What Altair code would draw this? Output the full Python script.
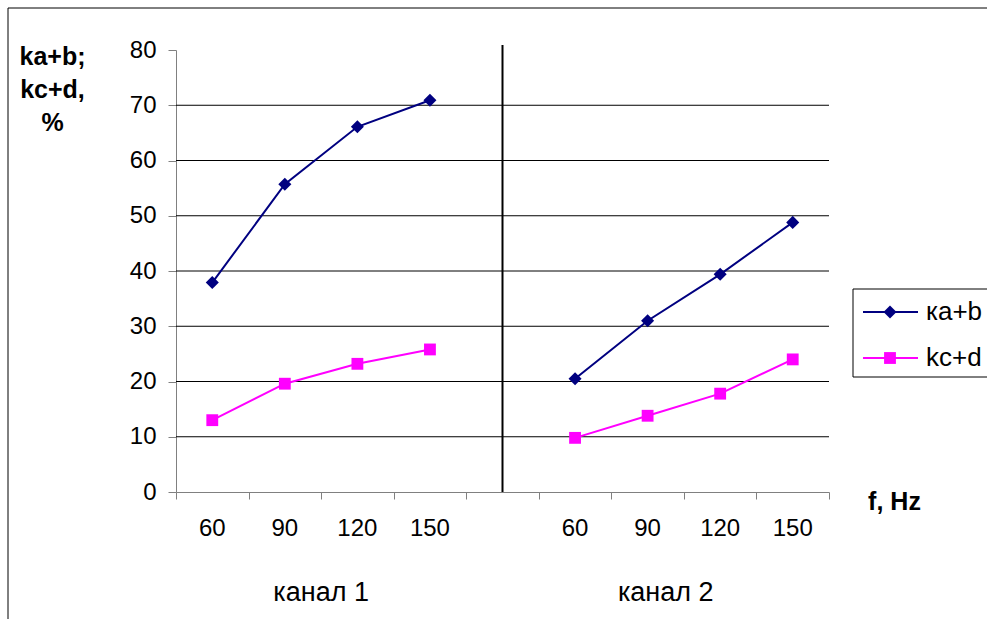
import altair as alt
import pandas as pd

# ---------------- data ----------------
freqs = [60, 90, 120, 150]
channels = ["канал 1", "канал 2"]
series_names = ["ka+b", "kc+d"]
legend_names = ["ка+b", "kc+d"]
ka_b_ch1 = [37.9, 55.7, 66.1, 70.9]
kc_d_ch1 = [13.0, 19.6, 23.2, 25.8]
ka_b_ch2 = [20.5, 31.0, 39.4, 48.8]
kc_d_ch2 = [9.8, 13.8, 17.8, 24.0]
y_ticks = [0, 10, 20, 30, 40, 50, 60, 70, 80]
grid_vals = [10, 20, 30, 40, 50, 60, 70]
colors = ["#000080", "#FF00FF"]
shapes = ["diamond", "square"]
sizes = [170, 140]

W, H = 653, 442
FONT = "Liberation Sans"

n_per = len(freqs)
n_slots = 2 * n_per + 1

rows = []
for c, vals in enumerate([(ka_b_ch1, kc_d_ch1), (ka_b_ch2, kc_d_ch2)]):
    for s, series_vals in enumerate(vals):
        for i, f in enumerate(freqs):
            rows.append(dict(pos=c * (n_per + 1) + i + 0.5, freq=str(f),
                             channel=channels[c], series=series_names[s],
                             value=series_vals[i], grp=f"{series_names[s]}-{c}"))
df = pd.DataFrame(rows)

tick_df = df[["pos", "freq"]].drop_duplicates()
chan_df = pd.DataFrame({"channel": channels, "pos": [2.0, 6.75]})
grid_df = pd.DataFrame({"v": grid_vals})
sep_df = pd.DataFrame({"sx": [n_slots / 2]})

xscale = alt.Scale(domain=[0, n_slots], nice=False, zero=False)
yscale = alt.Scale(domain=[0, 80], nice=False)
cscale = alt.Scale(domain=series_names, range=colors)
sscale = alt.Scale(domain=series_names, range=shapes)

x_axis = alt.Axis(values=list(range(n_slots + 1)), labels=False, tickSize=7,
                  domainColor="#808080", tickColor="#808080", grid=False,
                  title="f, Hz", titleX=718, titleY=9, titleAlign="center",
                  titleBaseline="middle", titleFont=FONT, titleFontSize=25,
                  titleFontWeight="bold", titleColor="#000000")
y_axis = alt.Axis(values=y_ticks, tickSize=8, labelPadding=12, labelFont=FONT,
                  labelFontSize=24, labelColor="#000000", domainColor="#808080",
                  tickColor="#808080", grid=False,
                  title=["ka+b;", "kc+d,", "%"], titleAngle=0, titleX=-124,
                  titleY=-6, titleAlign="center", titleBaseline="top",
                  titleFont=FONT, titleFontSize=25, titleFontWeight="bold",
                  titleLineHeight=33, titleColor="#000000")

# gridlines (carries the y axis)
grid = alt.Chart(grid_df).mark_rule(color="#000000", strokeWidth=1).encode(
    y=alt.Y("v:Q", scale=yscale, axis=y_axis),
    x=alt.value(0), x2=alt.value(W),
)

# group separator (carries the x axis)
sep = alt.Chart(sep_df).mark_rule(color="#000000", strokeWidth=2).encode(
    x=alt.X("sx:Q", scale=xscale, axis=x_axis),
    y=alt.value(-5), y2=alt.value(H),
)

lines = alt.Chart(df).mark_line(strokeWidth=2).encode(
    x=alt.X("pos:Q", scale=xscale),
    y=alt.Y("value:Q", scale=yscale),
    color=alt.Color("series:N", scale=cscale, legend=None),
    detail="grp:N",
)

points = alt.Chart(df).mark_point(filled=True, opacity=1).encode(
    x=alt.X("pos:Q", scale=xscale),
    y=alt.Y("value:Q", scale=yscale),
    color=alt.Color("series:N", scale=cscale, legend=None),
    shape=alt.Shape("series:N", scale=sscale, legend=None),
    size=alt.Size("series:N", scale=alt.Scale(domain=series_names, range=sizes), legend=None),
)

xlabels = alt.Chart(tick_df).mark_text(font=FONT, fontSize=24, color="#000000",
                                       baseline="middle", align="center").encode(
    x=alt.X("pos:Q", scale=xscale),
    y=alt.value(H + 37),
    text="freq:N",
)

clabels = alt.Chart(chan_df).mark_text(font=FONT, fontSize=27, color="#000000",
                                       baseline="middle", align="center").encode(
    x=alt.X("pos:Q", scale=xscale),
    y=alt.value(H + 101),
    text="channel:N",
)

# legend (Excel style)
leg_box = alt.Chart(sep_df).mark_rect(fill="#ffffff", stroke="#000000", strokeWidth=1).encode(
    x=alt.value(677), x2=alt.value(830), y=alt.value(239), y2=alt.value(327)
)

legend_layers = [leg_box]
row_y = [262, 308]
for k, name in enumerate(legend_names):
    one = pd.DataFrame({"name": [name]})
    legend_layers.append(alt.Chart(one).mark_rule(color=colors[k], strokeWidth=2).encode(
        x=alt.value(687), x2=alt.value(742), y=alt.value(row_y[k])))
    legend_layers.append(alt.Chart(one).mark_point(filled=True, opacity=1, color=colors[k],
                                                   shape=shapes[k], size=sizes[k]).encode(
        x=alt.value(714), y=alt.value(row_y[k])))
    legend_layers.append(alt.Chart(one).mark_text(font=FONT, fontSize=26, color="#000000",
                                                  align="left", baseline="middle").encode(
        x=alt.value(750), y=alt.value(row_y[k]), text="name:N"))

border = alt.Chart(sep_df).mark_rect(fillOpacity=0, stroke="#000000", strokeWidth=1).encode(
    x=alt.value(-168), x2=alt.value(830), y=alt.value(-42), y2=alt.value(600)
)

chart = alt.layer(border, grid, sep, lines, points, xlabels, clabels, *legend_layers).properties(
    width=W, height=H,
    autosize=alt.AutoSizeParams(type="none"),
    padding={"left": 176, "top": 50, "right": 158, "bottom": 127},
    background="#ffffff",
).configure_view(strokeWidth=0)

chart.save("out.html", embed_options={"renderer": "svg", "actions": False})
